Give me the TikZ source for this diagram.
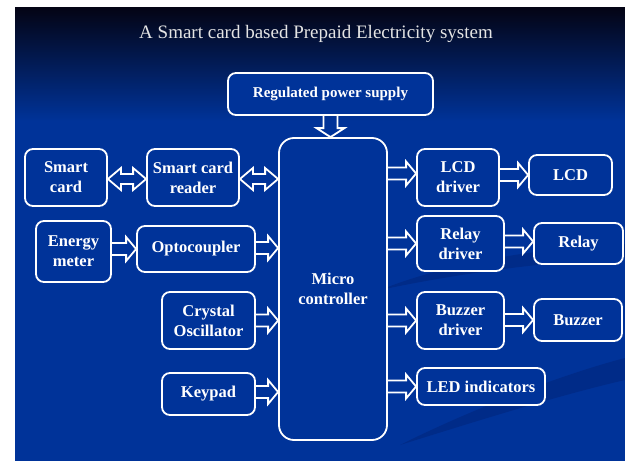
\documentclass[tikz,border=0pt]{standalone}
\usepackage{fontspec}
\setmainfont{Liberation Serif}
\usetikzlibrary{calc}
\definecolor{bgblue}{RGB}{0,51,153}
\definecolor{bgdark}{RGB}{4,4,20}
\definecolor{swoosh}{RGB}{0,43,136}
\definecolor{titlegray}{RGB}{228,228,228}
\newcommand\barrow[2]{\draw[arrline] let \p1=#1, \p2=#2 in
  (\x1,\y1+6pt) -- (\x2-10pt,\y1+6pt) -- (\x2-10pt,\y1+12pt) -- (\x2,\y1)
  -- (\x2-10pt,\y1-12pt) -- (\x2-10pt,\y1-6pt) -- (\x1,\y1-6pt);}
\newcommand\dbarrow[2]{\draw[arrline] let \p1=#1, \p2=#2 in
  (\x1,\y1) -- (\x1+13pt,\y1+11pt) -- (\x1+13pt,\y1+5pt) -- (\x2-13pt,\y1+5pt)
  -- (\x2-13pt,\y1+11pt) -- (\x2,\y1) -- (\x2-13pt,\y1-11pt) -- (\x2-13pt,\y1-5pt)
  -- (\x1+13pt,\y1-5pt) -- (\x1+13pt,\y1-11pt) -- cycle;}
\begin{document}
\begin{tikzpicture}[x=1pt,y=-1pt,
  box/.style 2 args={draw=white, line width=1.8pt, rounded corners=8pt, fill=bgblue,
    text=white, font=\fontsize{16.5}{20}\selectfont\bfseries, align=center,
    inner sep=0pt, minimum width=#1pt, minimum height=#2pt},
  arrline/.style={draw=white, line width=1.8pt, line join=miter}]
\useasboundingbox (0,0) rectangle (625,461);
% background
\fill[white] (0,0) rectangle (625,461);
\fill[bgblue] (15,120) rectangle (625,461);
\shade[top color=bgdark, bottom color=bgblue, shading angle=0] (15,7) rectangle (625,121);
\fill[swoosh] (380,290) .. controls (450,262) and (540,248) .. (625,244)
  -- (625,258) .. controls (540,262) and (450,275) .. (380,290) -- cycle;
\fill[swoosh] (400,445) .. controls (470,410) and (560,375) .. (625,358)
  -- (625,380) .. controls (560,395) and (480,420) .. (400,445) -- cycle;
% title
\node[text=titlegray, font=\fontsize{19}{22}\selectfont] (title) at (316,34) {A Smart card based Prepaid Electricity system};
% nodes
\node[box={205}{42}, font=\fontsize{15}{18}\selectfont\bfseries] (rps) at (330.5,94) {Regulated power supply};
\node[box={108}{302}, rounded corners=15pt] (micro) at (333,289) {Micro\\controller};
\node[box={82}{57}] (smart) at (66,177.5) {Smart\\card};
\node[box={92}{57}] (reader) at (193,177.5) {Smart card\\reader};
\node[box={75}{61}] (energy) at (73.5,251.5) {Energy\\meter};
\node[box={118}{46}] (opto) at (196,249) {Optocoupler};
\node[box={93}{57}] (crystal) at (208.5,320.5) {Crystal\\Oscillator};
\node[box={93}{42}] (keypad) at (208.5,394) {Keypad};
\node[box={82}{57}] (lcddrv) at (458,177.5) {LCD\\driver};
\node[box={83}{40}] (lcd) at (570.5,175) {LCD};
\node[box={87}{55}] (relaydrv) at (460.5,243.5) {Relay\\driver};
\node[box={89}{41}] (relay) at (578.5,243.5) {Relay};
\node[box={87}{57}] (buzzdrv) at (460.5,320.5) {Buzzer\\driver};
\node[box={88}{42}] (buzz) at (578,320) {Buzzer};
\node[box={128}{37}] (led) at (481,386.5) {LED indicators};
% connectors
\draw[arrline] let \p1=(rps.south), \p2=(micro.north) in
  (\x1-7pt,\y1) -- (\x1-7pt,\y2+9pt) -- (\x1-14pt,\y2+9pt) -- (\x1,\y2)
  -- (\x1+14pt,\y2+9pt) -- (\x1+7pt,\y2+9pt) -- (\x1+7pt,\y1);
\dbarrow{($(smart.east)+(0,1.5)$)}{(reader.west)}
\dbarrow{($(reader.east)+(0,1.5)$)}{(reader.east -| micro.west)}
\barrow{(energy.east |- opto.west)}{(opto.west)}
\barrow{($(opto.east)+(0,-1)$)}{(opto.east -| micro.west)}
\barrow{(crystal.east)}{(crystal.east -| micro.west)}
\barrow{($(keypad.east)+(0,-2)$)}{(keypad.east -| micro.west)}
\barrow{($(micro.east |- lcddrv.west)+(0,-4)$)}{(lcddrv.west)}
\barrow{(lcddrv.east |- lcd.west)}{(lcd.west)}
\barrow{(micro.east |- relaydrv.west)}{(relaydrv.west)}
\barrow{($(relaydrv.east)+(0,-2)$)}{(relaydrv.east -| relay.west)}
\barrow{(micro.east |- buzzdrv.west)}{(buzzdrv.west)}
\barrow{(buzzdrv.east |- buzz.west)}{(buzz.west)}
\barrow{(micro.east |- led.west)}{(led.west)}
\end{tikzpicture}
\end{document}
